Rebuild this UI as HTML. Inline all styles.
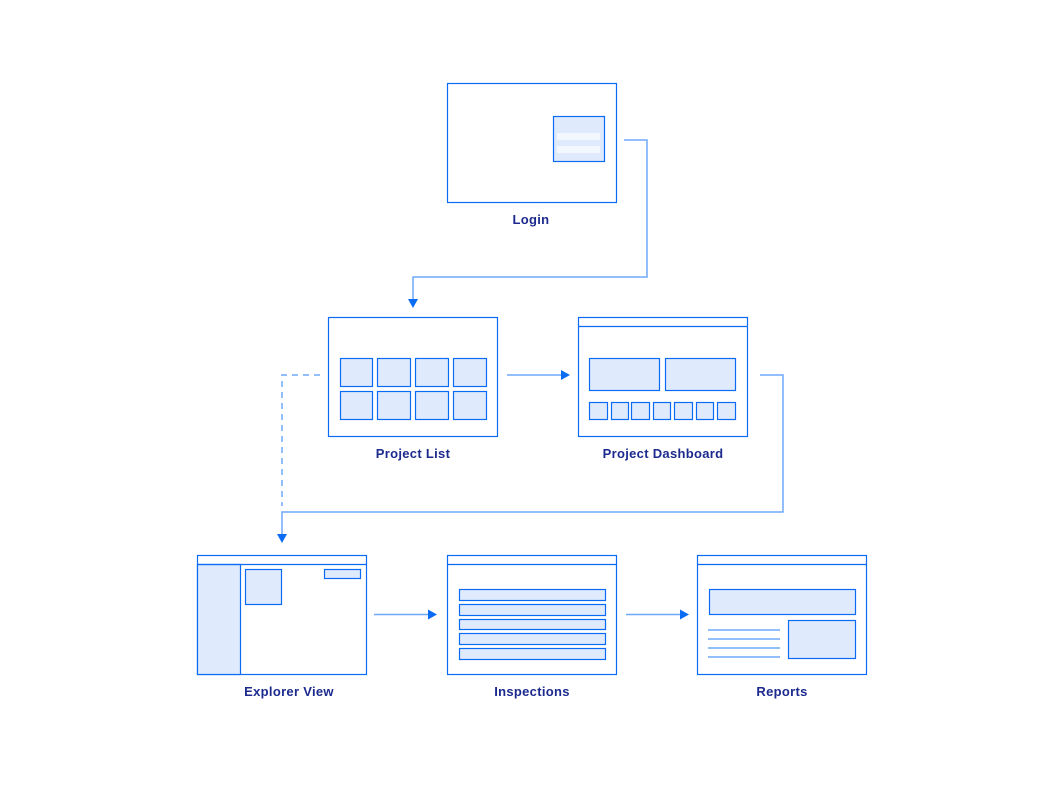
<!DOCTYPE html>
<html><head><meta charset="utf-8"><style>
html,body{margin:0;padding:0;background:#fff;width:1064px;height:800px;overflow:hidden}
text{font-family:"Liberation Sans",sans-serif;font-weight:bold;font-size:13px;fill:#1c2a8e;text-anchor:middle;letter-spacing:0.3px}
</style></head><body>
<svg width="1064" height="800" viewBox="0 0 1064 800" xmlns="http://www.w3.org/2000/svg">
<g fill="none" stroke="#0a6cf5" stroke-width="1.2">
 <!-- Login -->
 <rect x="447.5" y="83.5" width="169" height="119" fill="#fff"/>
 <rect x="553.5" y="116.5" width="51" height="45" fill="#dfeafc"/>
</g>
<rect x="557" y="133" width="43" height="7" fill="#f3f7fe"/>
<rect x="557" y="146" width="43" height="7" fill="#f3f7fe"/>

<!-- connectors -->
<g fill="none" stroke="#6fa8fb" stroke-width="1.5">
 <polyline points="624,140 647,140 647,277 413,277 413,300"/>
 <line x1="507" y1="375" x2="562" y2="375"/>
 <polyline points="760,375 783,375 783,512 282,512 282,535"/>
 <polyline points="320,375 282,375 282,506" stroke-dasharray="6,5"/>
 <line x1="374" y1="614.5" x2="429" y2="614.5"/>
 <line x1="626" y1="614.5" x2="681" y2="614.5"/>
</g>
<g fill="#0a6cf5">
 <polygon points="408,299 418,299 413,308"/>
 <polygon points="561,370 561,380 570,375"/>
 <polygon points="277,534 287,534 282,543"/>
 <polygon points="428,609.5 428,619.5 437,614.5"/>
 <polygon points="680,609.5 680,619.5 689,614.5"/>
</g>

<g fill="none" stroke="#0a6cf5" stroke-width="1.2">
 <!-- Project List -->
 <rect x="328.5" y="317.5" width="169" height="119" fill="#fff"/>
 <g fill="#dfeafc">
  <rect x="340.5" y="358.5" width="32" height="28"/><rect x="377.5" y="358.5" width="33" height="28"/>
  <rect x="415.5" y="358.5" width="33" height="28"/><rect x="453.5" y="358.5" width="33" height="28"/>
  <rect x="340.5" y="391.5" width="32" height="28"/><rect x="377.5" y="391.5" width="33" height="28"/>
  <rect x="415.5" y="391.5" width="33" height="28"/><rect x="453.5" y="391.5" width="33" height="28"/>
 </g>
 <!-- Dashboard -->
 <rect x="578.5" y="317.5" width="169" height="119" fill="#fff"/>
 <line x1="578" y1="326.5" x2="748" y2="326.5"/>
 <g fill="#dfeafc">
  <rect x="589.5" y="358.5" width="70" height="32"/><rect x="665.5" y="358.5" width="70" height="32"/>
  <rect x="589.5" y="402.5" width="18" height="17"/><rect x="611.5" y="402.5" width="17" height="17"/>
  <rect x="631.5" y="402.5" width="18" height="17"/><rect x="653.5" y="402.5" width="17" height="17"/>
  <rect x="674.5" y="402.5" width="18" height="17"/><rect x="696.5" y="402.5" width="17" height="17"/>
  <rect x="717.5" y="402.5" width="18" height="17"/>
 </g>
 <!-- Explorer -->
 <rect x="197.5" y="555.5" width="169" height="119" fill="#fff"/>
 <rect x="197.5" y="564.5" width="43" height="110" fill="#dfeafc"/>
 <line x1="197" y1="564.5" x2="367" y2="564.5"/>
 <rect x="245.5" y="569.5" width="36" height="35" fill="#dfeafc"/>
 <rect x="324.5" y="569.5" width="36" height="9" fill="#dfeafc"/>
 <!-- Inspections -->
 <rect x="447.5" y="555.5" width="169" height="119" fill="#fff"/>
 <line x1="447" y1="564.5" x2="617" y2="564.5"/>
 <g fill="#dfeafc">
  <rect x="459.5" y="589.5" width="146" height="11"/><rect x="459.5" y="604.5" width="146" height="11"/>
  <rect x="459.5" y="619.5" width="146" height="10"/><rect x="459.5" y="633.5" width="146" height="11"/>
  <rect x="459.5" y="648.5" width="146" height="11"/>
 </g>
 <!-- Reports -->
 <rect x="697.5" y="555.5" width="169" height="119" fill="#fff"/>
 <line x1="697" y1="564.5" x2="867" y2="564.5"/>
 <rect x="709.5" y="589.5" width="146" height="25" fill="#dfeafc"/>
 <rect x="788.5" y="620.5" width="67" height="38" fill="#dfeafc"/>
</g>
<g stroke="#6fa8fb" stroke-width="1.5">
 <line x1="708" y1="630" x2="780" y2="630"/><line x1="708" y1="639" x2="780" y2="639"/>
 <line x1="708" y1="648" x2="780" y2="648"/><line x1="708" y1="657" x2="780" y2="657"/>
</g>

<text x="531" y="224">Login</text>
<text x="413" y="458">Project List</text>
<text x="663" y="458">Project Dashboard</text>
<text x="289" y="696">Explorer View</text>
<text x="532" y="696">Inspections</text>
<text x="782" y="696">Reports</text>
</svg>
</body></html>
